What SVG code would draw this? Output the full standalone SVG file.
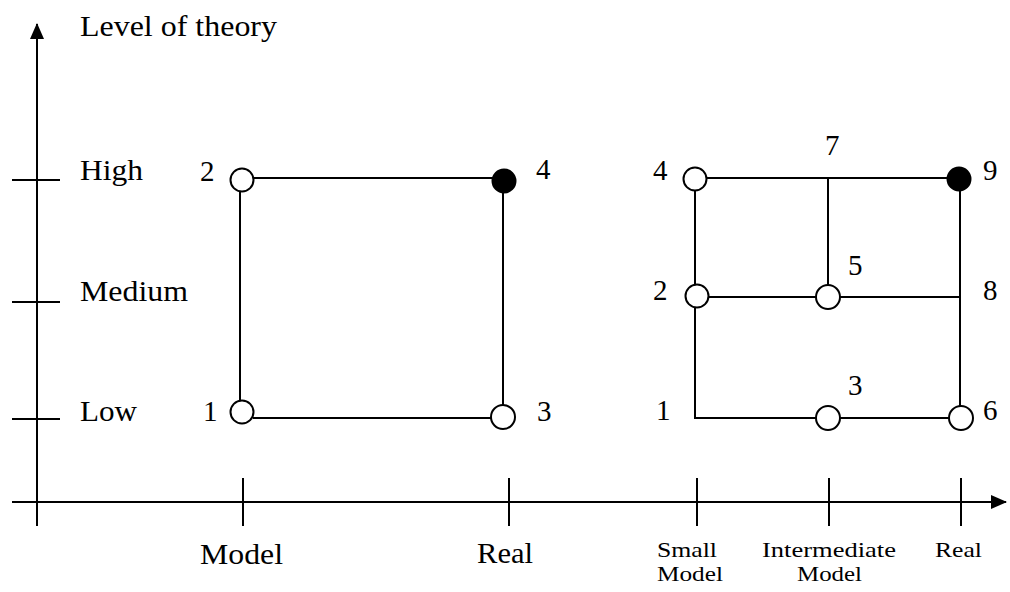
<svg xmlns="http://www.w3.org/2000/svg" width="1010" height="592" viewBox="0 0 1010 592">
<style>
.ln{stroke:#000;stroke-width:2;fill:none}
.nd{stroke:#000;stroke-width:2;fill:#fff}
.fl{fill:#000;stroke:#000;stroke-width:2}
.t{font-family:'Liberation Serif','Times New Roman',serif;font-size:29px;fill:#000}
.s{font-family:'Liberation Serif','Times New Roman',serif;font-size:21.5px;fill:#000}
</style>
<defs>
<marker id="ah" markerWidth="16" markerHeight="14" refX="15" refY="7" orient="auto" markerUnits="userSpaceOnUse">
<path d="M0,0 L16,7 L0,14 Z" fill="#000"/>
</marker>
</defs>
<rect width="1010" height="592" fill="#fff"/>
<g id="axes">
<line class="ln" x1="37" y1="526" x2="37" y2="24" marker-end="url(#ah)"/>
<line class="ln" x1="12" y1="502" x2="1006" y2="502" marker-end="url(#ah)"/>
<line class="ln" x1="12" y1="180" x2="60" y2="180"/>
<line class="ln" x1="12" y1="302" x2="60" y2="302"/>
<line class="ln" x1="12" y1="419" x2="60" y2="419"/>
<line class="ln" x1="243" y1="478" x2="243" y2="526"/>
<line class="ln" x1="509" y1="478" x2="509" y2="526"/>
<line class="ln" x1="697" y1="478" x2="697" y2="526"/>
<line class="ln" x1="829" y1="478" x2="829" y2="526"/>
<line class="ln" x1="961" y1="478" x2="961" y2="526"/>
<text class="t" x="80" y="36" textLength="197" lengthAdjust="spacingAndGlyphs">Level of theory</text>
<text class="t" x="80" y="180" textLength="63" lengthAdjust="spacingAndGlyphs">High</text>
<text class="t" x="80" y="301" textLength="108" lengthAdjust="spacingAndGlyphs">Medium</text>
<text class="t" x="80" y="421" textLength="57" lengthAdjust="spacingAndGlyphs">Low</text>
<text class="t" x="200" y="564" textLength="83" lengthAdjust="spacingAndGlyphs">Model</text>
<text class="t" x="477" y="563" textLength="56" lengthAdjust="spacingAndGlyphs">Real</text>
<text class="s" x="657" y="557" textLength="60" lengthAdjust="spacingAndGlyphs">Small</text>
<text class="s" x="657" y="581" textLength="66" lengthAdjust="spacingAndGlyphs">Model</text>
<text class="s" x="762" y="557" textLength="134" lengthAdjust="spacingAndGlyphs">Intermediate</text>
<text class="s" x="797" y="581" textLength="65" lengthAdjust="spacingAndGlyphs">Model</text>
<text class="s" x="935" y="557" textLength="47" lengthAdjust="spacingAndGlyphs">Real</text>
</g>
<g id="connectors">
<line class="ln" x1="254" y1="178" x2="494" y2="178"/>
<line class="ln" x1="240" y1="191" x2="240" y2="401"/>
<line class="ln" x1="503" y1="192" x2="503" y2="406"/>
<line class="ln" x1="253" y1="418" x2="492" y2="418"/>
<line class="ln" x1="695" y1="178" x2="959" y2="178"/>
<line class="ln" x1="828" y1="178" x2="828" y2="297"/>
<line class="ln" x1="695" y1="179" x2="695" y2="418"/>
<line class="ln" x1="694" y1="418" x2="961" y2="418"/>
<line class="ln" x1="697" y1="297" x2="960" y2="297"/>
<line class="ln" x1="960" y1="179" x2="960" y2="418"/>
</g>
<g id="left-1"><circle class="nd" cx="242" cy="412" r="11.5"/><text class="t" x="203" y="421">1</text></g>
<g id="left-2"><circle class="nd" cx="242" cy="180" r="11.5"/><text class="t" x="200" y="181">2</text></g>
<g id="left-3"><circle class="nd" cx="503" cy="417" r="12"/><text class="t" x="537" y="421">3</text></g>
<g id="left-4"><circle class="fl" cx="504" cy="181" r="11.5"/><text class="t" x="536" y="179">4</text></g>
<g id="right-1"><text class="t" x="656" y="420">1</text></g>
<g id="right-2"><circle class="nd" cx="697" cy="296" r="11.5"/><text class="t" x="653" y="300">2</text></g>
<g id="right-3"><circle class="nd" cx="828" cy="418" r="12"/><text class="t" x="848" y="395">3</text></g>
<g id="right-4"><circle class="nd" cx="695" cy="179" r="11.5"/><text class="t" x="653" y="180">4</text></g>
<g id="right-5"><circle class="nd" cx="828" cy="297" r="12"/><text class="t" x="848" y="275">5</text></g>
<g id="right-6"><circle class="nd" cx="961" cy="418" r="12"/><text class="t" x="983" y="420">6</text></g>
<g id="right-7"><text class="t" x="825" y="155">7</text></g>
<g id="right-8"><text class="t" x="983" y="300">8</text></g>
<g id="right-9"><circle class="fl" cx="959" cy="179" r="11.5"/><text class="t" x="983" y="180">9</text></g>
</svg>
